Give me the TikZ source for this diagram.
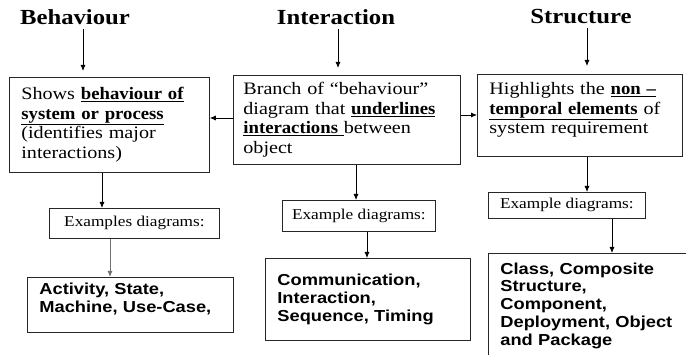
\documentclass[tikz,border=0pt]{standalone}
\usepackage{fontspec}
\setmainfont{Liberation Serif}[FakeStretch=1.15,
    BoldFont={Liberation Serif Bold}, BoldFeatures={FakeStretch=1.07}]
\newfontfamily\headfont{Liberation Serif}[FakeStretch=1.15]
\newfontfamily\exfont{Liberation Sans}[FakeStretch=1.15]
\usepackage{tikz}
\usetikzlibrary{arrows.meta}

% extra space below the last line, lifts the text in its box
\newcommand{\liftup}{\rule[-14pt]{0pt}{0pt}}

\begin{document}
\begin{tikzpicture}[x=1pt, y=-1pt,
    arr/.style={-{Latex[length=6pt,width=5pt]}, line width=0.8pt},
    cbox/.style={draw=black!85, line width=0.8pt, anchor=north west,
        inner xsep=12pt, inner ysep=0pt, align=left},
    exbox/.style={draw=black!85, line width=0.8pt, anchor=north west,
        inner sep=0pt, align=center, font=\fontsize{15}{17}\selectfont},
    head/.style={inner sep=0pt, font=\headfont\bfseries\fontsize{21.5}{24}\selectfont},
    bodyf/.style={font=\fontsize{17.5}{19.5}\selectfont},
    resf/.style={font=\exfont\bfseries\fontsize{15.9}{17.8}\selectfont}]

    \useasboundingbox (0,0) rectangle (686,355);
    \clip (0,0) rectangle (686,355);

    % =================================================================
    % 1. HEADINGS
    % =================================================================
    \node[head] (bhead) at (75,17) {Behaviour};
    \node[head] (ihead) at (336,17) {Interaction};
    \node[head] (shead) at (581,17) {Structure};

    % =================================================================
    % 2. DESCRIPTION BOXES
    % =================================================================
    \node[cbox, bodyf, minimum width=196, minimum height=95, text width=176pt] (bbox) at (9,77)
        {Shows \underline{\textbf{behaviour of}}\\
         \underline{\textbf{system or process}}\\
         (identifies major\\
         interactions)};
    \node[cbox, bodyf, inner xsep=10pt, minimum width=227, minimum height=89, text width=207pt] (ibox) at (233,75)
        {Branch of “behaviour”\\
         diagram that \underline{\textbf{underlines}}\\
         \underline{\textbf{interactions }}between\\
         object};
    \node[cbox, bodyf, minimum width=205, minimum height=82, text width=181pt] (sbox) at (477,74)
        {Highlights the \underline{\textbf{non –}}\\
         \mbox{\underline{\textbf{temporal elements}} of}\\
         system requirement\liftup};

    % =================================================================
    % 3. EXAMPLE LABELS
    % =================================================================
    \node[exbox, minimum width=170, minimum height=30] (bex) at (49,208) {Examples diagrams:};
    \node[exbox, minimum width=153, minimum height=31] (iex) at (282,200) {Example diagrams:};
    \node[exbox, minimum width=157, minimum height=26] (sex) at (488,192) {Example diagrams:};

    % =================================================================
    % 4. DIAGRAM LISTS
    % =================================================================
    \node[cbox, resf, minimum width=206, minimum height=55, text width=182pt] (bres) at (27,277)
        {Activity, State,\\ Machine, Use-Case,\liftup};
    \node[cbox, resf, minimum width=205, minimum height=82, text width=181pt] (ires) at (265,258)
        {Communication,\\ Interaction,\\ Sequence, Timing};
    \node[cbox, resf, minimum width=220, minimum height=115, text width=196pt] (sres) at (488,253)
        {Class, Composite\\ Structure,\\ Component,\\ Deployment, Object\\ and Package\liftup};

    % =================================================================
    % 5. ARROWS
    % =================================================================
    \draw[arr, shorten <=4pt, shorten >=6pt] (bhead.south -| 83,0) -- (bbox.north -| 83,0);
    \draw[arr, shorten <=4pt, shorten >=7pt] (ihead.south -| 338,0) -- (ibox.north -| 338,0);
    \draw[arr, shorten <=4pt, shorten >=8pt] (shead.south -| 587,0) -- (sbox.north -| 587,0);

    \draw[arr] (ibox.west |- 0,118) -- (bbox.east |- 0,118);
    \draw[arr] (ibox.east |- 0,115) -- (sbox.west |- 0,115);

    \draw[arr] (bbox.south -| 102,0) -- (bex.north -| 102,0);
    \draw[arr, draw=black!55] (bex.south -| 110,0) -- (bres.north -| 110,0);
    \draw[arr] (ibox.south -| 356,0) -- (iex.north -| 356,0);
    \draw[arr] (iex.south -| 367,0) -- (ires.north -| 367,0);
    \draw[arr] (sbox.south -| 587,0) -- (sex.north -| 587,0);
    \draw[arr] (sex.south -| 612,0) -- (sres.north -| 612,0);

\end{tikzpicture}
\end{document}
